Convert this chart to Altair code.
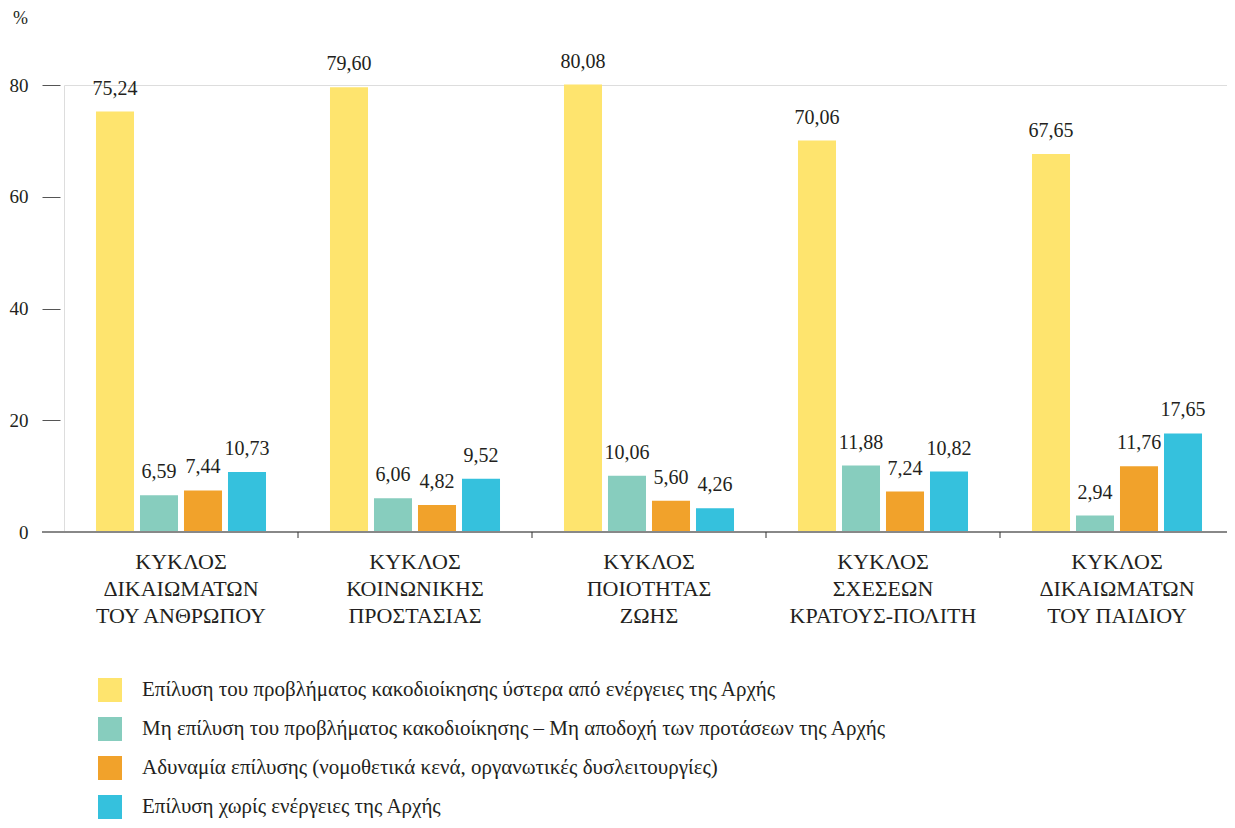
import altair as alt
import pandas as pd

categories = [
    "ΚΥΚΛΟΣ\nΔΙΚΑΙΩΜΑΤΩΝ\nΤΟΥ ΑΝΘΡΩΠΟΥ",
    "ΚΥΚΛΟΣ\nΚΟΙΝΩΝΙΚΗΣ\nΠΡΟΣΤΑΣΙΑΣ",
    "ΚΥΚΛΟΣ\nΠΟΙΟΤΗΤΑΣ\nΖΩΗΣ",
    "ΚΥΚΛΟΣ\nΣΧΕΣΕΩΝ\nΚΡΑΤΟΥΣ-ΠΟΛΙΤΗ",
    "ΚΥΚΛΟΣ\nΔΙΚΑΙΩΜΑΤΩΝ\nΤΟΥ ΠΑΙΔΙΟΥ",
]

series = [
    "Επίλυση του προβλήματος κακοδιοίκησης ύστερα από ενέργειες της Αρχής",
    "Μη επίλυση του προβλήματος κακοδιοίκησης – Μη αποδοχή των προτάσεων της Αρχής",
    "Αδυναμία επίλυσης (νομοθετικά κενά, οργανωτικές δυσλειτουργίες)",
    "Επίλυση χωρίς ενέργειες της Αρχής",
]

resolved = [75.24, 79.60, 80.08, 70.06, 67.65]
not_resolved = [6.59, 6.06, 10.06, 11.88, 2.94]
unable = [7.44, 4.82, 5.60, 7.24, 11.76]
no_action = [10.73, 9.52, 4.26, 10.82, 17.65]

colors = ["#FEE46E", "#87CDBE", "#F1A22B", "#35C1DD"]
y_ticks = [0, 20, 40, 60, 80]

rows = []
for s, vals in zip(series, [resolved, not_resolved, unable, no_action]):
    for c, v in zip(categories, vals):
        rows.append({"cat": c, "series": s, "value": v})
df = pd.DataFrame(rows)

W = 1163      # visible plot width (svg must fit in the page body)
XR = 1170     # band range so the five bands match the reference spacing
H = 447
FONT = "Liberation Serif, serif"
TXT = "#231F20"

x = alt.X("cat:N", sort=categories,
          scale=alt.Scale(paddingInner=0, paddingOuter=0, range=[0, XR]),
          axis=alt.Axis(title=None, domain=False, ticks=False,
                        labelExpr="split(datum.label, '\\n')",
                        labelAngle=0, labelFont=FONT, labelFontSize=22,
                        labelColor=TXT, labelLineHeight=27, labelPadding=19,
                        labelLimit=400))

y = alt.Y("value:Q", scale=alt.Scale(domain=[0, 80], nice=False),
          axis=alt.Axis(values=y_ticks, offset=4, tickSize=18, tickColor="#555555",
                        tickWidth=1, domain=False, grid=False, labelPadding=14,
                        labelFont=FONT, labelFontSize=19, labelColor=TXT,
                        title="%", titleAngle=0, titleX=-40, titleY=-67,
                        titleAlign="center", titleBaseline="middle",
                        titleFont=FONT, titleFontSize=18, titleFontWeight="normal",
                        titleColor=TXT))

xoff = alt.XOffset("series:N", sort=series,
                   scale=alt.Scale(domain=series, paddingInner=0.136, paddingOuter=0.727))

color = alt.Color("series:N", sort=series,
                  scale=alt.Scale(domain=series, range=colors),
                  legend=alt.Legend(title=None, orient="none", legendX=34, legendY=593,
                                    direction="vertical", symbolType="square",
                                    symbolSize=576, symbolStrokeWidth=0,
                                    labelFont=FONT, labelFontSize=21, labelColor=TXT,
                                    labelOffset=20, rowPadding=15, padding=0,
                                    labelLimit=1000))

base = alt.Chart(df)

bars = base.mark_bar().encode(x=x, y=y, xOffset=xoff, color=color)

labels = base.transform_calculate(
    lbl="replace(format(datum.value, '.2f'), '.', ',')"
).mark_text(baseline="alphabetic", dy=-17, font=FONT, fontSize=20, color=TXT).encode(
    x=alt.X("cat:N", sort=categories), y="value:Q",
    xOffset=alt.XOffset("series:N", sort=series), text="lbl:N")

baseline = alt.Chart(pd.DataFrame({"v": [0]})).mark_rule(
    color="#888888", strokeWidth=2).encode(
    y=alt.Y("v:Q"), x=alt.value(-22), x2=alt.value(XR))

dividers = alt.Chart(pd.DataFrame({"cat": categories[1:]})).mark_rule(
    color="#333333", strokeWidth=1).encode(
    x=alt.X("cat:N", sort=categories, bandPosition=0),
    y=alt.value(H), y2=alt.value(H + 6))

chart = alt.layer(bars, labels, baseline, dividers).properties(
    width=W, height=H,
    autosize=alt.AutoSizeParams(type="none"),
    padding={"left": 56, "top": 77, "right": 0, "bottom": 292},
).configure_view(stroke=None).configure(background="white")

chart.save("out.html", embed_options={"renderer": "svg", "actions": False})
